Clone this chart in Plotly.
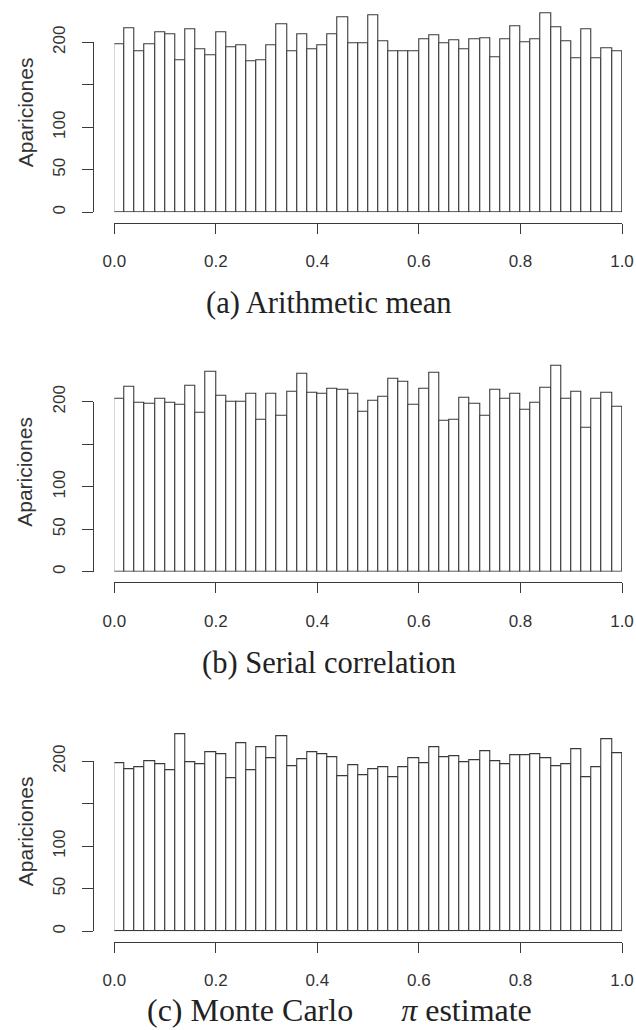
import plotly.graph_objects as go

# ---------------- data ----------------
bin_width = 0.02
n_bins = 50
bin_centers = [bin_width * (i + 0.5) for i in range(n_bins)]

counts_a = [198, 216, 190, 198, 212, 209, 179, 215, 192, 185,
            212, 194, 196, 178, 179, 196, 221, 189, 210, 192,
            196, 210, 229, 199, 199, 232, 201, 189, 189, 189,
            204, 208, 199, 202, 192, 204, 205, 182, 203, 219,
            200, 203, 234, 218, 201, 181, 215, 181, 193, 190]

counts_b = [204, 218, 199, 198, 203, 199, 197, 219, 187, 235,
            207, 200, 200, 210, 179, 209, 183, 212, 233, 211,
            209, 215, 214, 209, 188, 201, 206, 227, 224, 196,
            215, 234, 178, 179, 205, 198, 183, 214, 203, 209,
            191, 199, 216, 242, 203, 212, 169, 203, 211, 194]

counts_c = [198, 191, 193, 200, 197, 189, 232, 199, 197, 211,
            208, 180, 221, 189, 216, 204, 229, 194, 202, 211,
            208, 205, 182, 195, 183, 191, 193, 181, 193, 203,
            198, 216, 205, 206, 199, 201, 212, 200, 196, 207,
            207, 208, 203, 194, 197, 214, 181, 193, 226, 209]

x_tick_vals = [0.0, 0.2, 0.4, 0.6, 0.8, 1.0]
x_tick_text = ["0.0", "0.2", "0.4", "0.6", "0.8", "1.0"]
y_tick_vals = [0, 50, 100, 150, 200]
y_tick_text = ["0", "50", "100", "", "200"]

nb = "\u00a0"
captions = ["(a) Arithmetic mean",
            "(b) Serial correlation",
            "(c) Monte Carlo" + nb * 6 + "<i>π</i> estimate"]
y_title = "Apariciones"

# ---------------- layout helpers ----------------
W, H = 636, 1030
def fx(p):
    return p / W
def fy(p):
    return 1 - p / H

x_left, x_right = 114.3, 622.0
px_per_unit = 0.85
ymax_main = [240, 260, 260]
panel_y0 = [212.3, 571.8, 931.2]
caption_x = [329, 329, 339]
caption_dy = [91, 91, None]
caption_size = [30.5, 30.5, 32]
line_col = "#3a3a3a"
text_col = "#333333"
sans = "Liberation Sans, Arial, sans-serif"

fig = go.Figure()
layout = {}
annotations = []

for i, (counts, y0) in enumerate(zip([counts_a, counts_b, counts_c], panel_y0)):
    k_main = 2 * i + 1
    k_axis = 2 * i + 2
    xm = "x" if k_main == 1 else f"x{k_main}"
    ym = "y" if k_main == 1 else f"y{k_main}"
    xa, ya = f"x{k_axis}", f"y{k_axis}"
    xm_key = "xaxis" if k_main == 1 else f"xaxis{k_main}"
    ym_key = "yaxis" if k_main == 1 else f"yaxis{k_main}"

    fig.add_trace(go.Bar(
        x=bin_centers, y=counts, width=bin_width, cliponaxis=False,
        marker=dict(color="white", line=dict(color=line_col, width=1.1)),
        xaxis=xm, yaxis=ym, showlegend=False, hoverinfo="x+y"))

    fig.add_trace(go.Scatter(x=[], y=[], xaxis=xa, yaxis=ya,
                             showlegend=False, hoverinfo="skip"))

    top_px = max(0.0, y0 - px_per_unit * ymax_main[i])
    layout[xm_key] = dict(domain=[fx(x_left), fx(x_right)], range=[0, 1],
                          visible=False, anchor=ym, fixedrange=True,
                          automargin=False)
    layout[ym_key] = dict(domain=[fy(y0), fy(top_px)],
                          range=[0, (y0 - top_px) / px_per_unit],
                          visible=False, anchor=xm,
                          fixedrange=True, automargin=False)

    layout[f"xaxis{k_axis}"] = dict(
        domain=[fx(x_left), fx(x_right)], range=[0, 1], anchor="free",
        position=fy(y0 + 10.3), showline=True, linecolor=line_col, linewidth=1.1,
        ticks="outside", ticklen=10, tickwidth=1.1, tickcolor=line_col,
        tickvals=x_tick_vals, ticktext=x_tick_text, showgrid=False,
        zeroline=False, ticklabelstandoff=13, automargin=False,
        ticklabeloverflow="allow",
        tickfont=dict(family=sans, size=17, color=text_col), fixedrange=True)
    layout[f"yaxis{k_axis}"] = dict(
        domain=[fy(y0), fy(y0 - px_per_unit * 200)], range=[0, 200],
        anchor="free", position=fx(93.3), showline=True, linecolor=line_col,
        linewidth=1.1, ticks="outside", ticklen=11, tickwidth=1.1,
        tickcolor=line_col, tickvals=y_tick_vals, ticktext=y_tick_text,
        tickangle=-90, showgrid=False, zeroline=False, ticklabelstandoff=10,
        automargin=False,
        tickfont=dict(family=sans, size=17, color=text_col), fixedrange=True)

    annotations.append(dict(
        text=y_title, textangle=-90, x=fx(25), y=fy(y0 - 100),
        xref="paper", yref="paper", showarrow=False,
        xanchor="center", yanchor="middle",
        font=dict(family=sans, size=21, color=text_col)))
    if caption_dy[i] is None:
        cap_y, cap_anchor = 0.0, "bottom"
    else:
        cap_y, cap_anchor = fy(y0 + caption_dy[i]), "middle"
    annotations.append(dict(
        text=captions[i], x=fx(caption_x[i]), y=cap_y,
        xref="paper", yref="paper", showarrow=False,
        xanchor="center", yanchor=cap_anchor,
        font=dict(family="Liberation Serif, Times New Roman, serif",
                  size=caption_size[i], color="#222222")))

fig.update_layout(
    template="none",
    width=W, height=H, margin=dict(l=0, r=0, t=0, b=0, pad=0),
    paper_bgcolor="white", plot_bgcolor="rgba(0,0,0,0)",
    annotations=annotations, bargap=0, **layout)

fig.write_html(
    "out.html", include_plotlyjs=True,
    config={"displayModeBar": False},
    post_script="document.body.style.margin='0';"
                "document.body.style.overflow='hidden';")
